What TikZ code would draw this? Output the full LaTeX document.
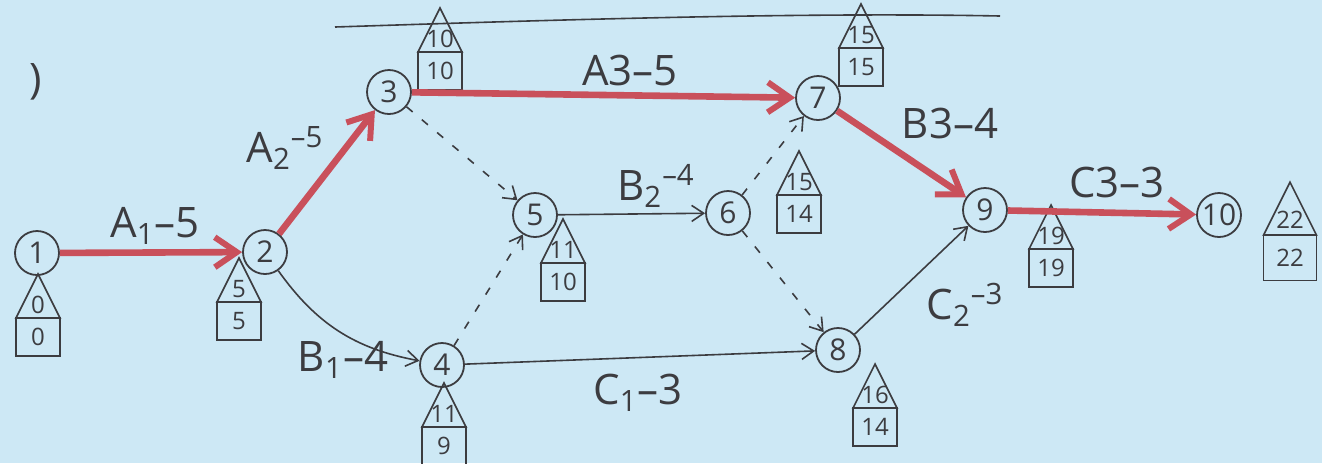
\documentclass[tikz,border=0pt]{standalone}
\usepackage{fontspec}
\setmainfont{Open Sans}
\usetikzlibrary{arrows.meta}
\definecolor{bg}{HTML}{CDE8F5}
\definecolor{crit}{HTML}{C9505B}
\definecolor{ink}{HTML}{3C3C40}
\begin{document}
\begin{tikzpicture}[x=0.5pt,y=-0.5pt,
  ev/.style={circle,draw=ink,line width=0.9pt,minimum size=22pt,inner sep=0pt,font=\fontsize{15}{16}\selectfont,text=ink},
  critedge/.style={draw=crit,line width=3.3pt,-{Straight Barb[length=11pt,width=15pt,line width=3pt]}},
  actedge/.style={draw=ink,line width=0.8pt,-{Straight Barb[length=6pt,width=8pt]}},
  dummy/.style={actedge,dash pattern=on 4pt off 6pt},
  lab/.style={font=\fontsize{21}{23}\selectfont,text=ink,inner sep=0pt},
  hnum/.style={font=\fontsize{12}{13}\selectfont,text=ink,inner sep=0pt},
  pics/house/.style 2 args={code={
    \draw[ink,line width=0.8pt] (-22,0) -- (0,-44) -- (22,0) -- cycle;
    \draw[ink,line width=0.8pt] (-22,0) rectangle (22,38);
    \node[hnum] (top) at (0,-13) {#1};
    \node[hnum] (bot) at (0,19) {#2};
  }}]
\useasboundingbox (0,0) rectangle (1322,463);
\fill[bg] (0,0) rectangle (1322,463);

% top line and partial text
\draw[ink,line width=0.8pt] (335,27) .. controls (550,20) and (800,12) .. (1000,16);
\node[lab] (paren) at (36,82) {)};

% events
\node[ev] (n1) at (37,253) {1};
\node[ev] (n2) at (265,252) {2};
\node[ev] (n3) at (389,92) {3};
\node[ev] (n4) at (442,365) {4};
\node[ev] (n5) at (535,215) {5};
\node[ev] (n6) at (728,213) {6};
\node[ev] (n7) at (818,98) {7};
\node[ev] (n8) at (838,350) {8};
\node[ev] (n9) at (985,210) {9};
\node[ev] (n10) at (1219,215) {10};

% time houses
\pic (h1) at (38,318) {house={0}{0}};
\pic (h2) at (239,302) {house={5}{5}};
\pic (h3) at (440,52) {house={10}{10}};
\pic (h4) at (444,427) {house={11}{9}};
\pic (h5) at (563,263) {house={11}{10}};
\pic (h6) at (799,195) {house={15}{14}};
\pic (h7) at (861,48) {house={15}{15}};
\pic (h8) at (875,408) {house={16}{14}};
\pic (h9) at (1051,249) {house={19}{19}};
\pic[scale=1.2] (h10) at (1290,235) {house={22}{22}};

% activities
\draw[actedge] (n2) to[bend right=22] (n4);
\draw[actedge] (n5) -- (n6);
\draw[actedge] (n4) -- (n8);
\draw[actedge] (n8) -- (n9);
\draw[dummy] (n3) -- (n5);
\draw[dummy] (n4) -- (n5);
\draw[dummy] (n6) -- (n7);
\draw[dummy] (n6) -- (n8);

% critical path
\draw[critedge] (n1) -- (n2);
\draw[critedge] (n2) -- (n3);
\draw[critedge] (n3) -- (n7);
\draw[critedge] (n7) -- (n9);
\draw[critedge] (n9) -- (n10);

% labels
\node[lab] (lA1) at (155,226) {A\textsubscript{1}–5};
\node[lab] (lA2) at (285,148) {A\textsubscript{2}\textsuperscript{–5}};
\node[lab] (lA3) at (630,70) {A3–5};
\node[lab] (lB1) at (343,360) {B\textsubscript{1}–4};
\node[lab] (lB2) at (656,186) {B\textsubscript{2}\textsuperscript{–4}};
\node[lab] (lB3) at (950,123) {B3–4};
\node[lab] (lC1) at (638,393) {C\textsubscript{1}–3};
\node[lab] (lC2) at (965,305) {C\textsubscript{2}\textsuperscript{–3}};
\node[lab] (lC3) at (1117,182) {C3–3};
\end{tikzpicture}
\end{document}
